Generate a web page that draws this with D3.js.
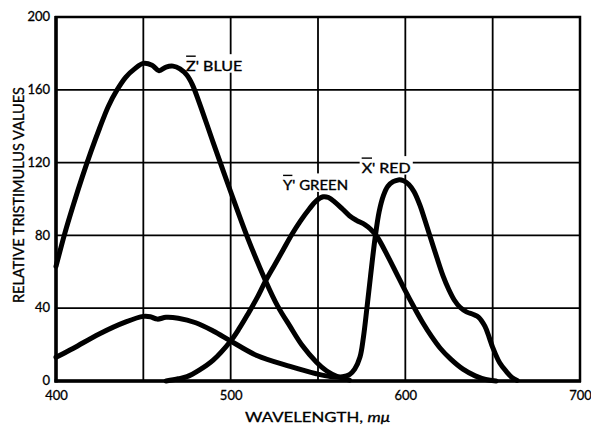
<!DOCTYPE html>
<html>
<head>
<meta charset="utf-8">
<script src="https://cdn.jsdelivr.net/npm/d3@7"></script>
<style>
  html, body { margin: 0; padding: 0; background: #fff; }
  svg { display: block; font-family: Lato, "DejaVu Sans", sans-serif; }
</style>
</head>
<body>
<svg id="chart" width="591" height="425"></svg>
<script>
// ---- data (wavelength in mμ, relative tristimulus value) ----
const xTicks = [400, 500, 600, 700];
const yTicks = [0, 40, 80, 120, 160, 200];
const xGrid = [450, 500, 550, 600, 650];
const yGrid = [40, 80, 120, 160];

const blueWl  = [400, 405, 410, 415, 420, 425, 430, 435, 440, 445, 450, 455, 459, 463, 467, 471, 475, 478, 482, 490, 500, 510, 520, 527, 534, 541, 549, 555, 561, 568];
const blueVal = [63, 81, 97, 112, 126, 139, 151, 160, 167, 171.5, 174.5, 173.5, 170.5, 172.5, 173, 171.5, 168, 163, 153, 131, 104, 78, 55, 41, 30, 19.5, 10.5, 5.5, 2.5, 0.5];

const greenWl  = [463, 470, 475, 482, 490, 500, 505, 510, 515, 520, 525, 530, 535, 540, 545, 549, 553, 556, 560, 564, 568, 572, 577, 580, 584, 590, 595, 600, 605, 610, 615, 620, 626, 633, 640, 646, 652];
const greenVal = [0, 1.2, 2.4, 6, 11.5, 22, 29, 37, 45.5, 55, 63.5, 72, 80.5, 88, 94.5, 99, 101.2, 100.8, 98, 94.5, 90.8, 88.3, 85.8, 83.5, 79, 68.5, 59, 49.5, 40.5, 32, 24.5, 18, 12, 6.5, 2.8, 0.8, 0];

const redWl  = [400, 410, 425, 440, 450, 454, 458, 463, 470, 480, 490, 500, 515, 534, 549, 557, 564, 568, 571, 574, 576, 578, 580, 582.6, 585, 587.5, 590, 593, 596, 599, 602, 605, 608.4, 611, 614, 618, 621.7, 625, 628, 631.3, 635, 639, 642, 645.6, 648, 650, 654, 658, 661, 664];
const redVal = [13, 18, 26, 32.5, 35.5, 35.3, 34, 35, 34.5, 32, 27.5, 22, 14, 8, 4, 2.5, 2.4, 3.5, 6.5, 13, 24, 40, 57, 78, 93, 102, 107, 109.5, 110.5, 110, 108, 104, 96.5, 89, 80, 68, 57.5, 50, 44.5, 40.5, 38, 36.5, 35, 30, 24, 18.5, 10, 5, 2, 0.3];

const seriesNames = ["Z'", "Y'", "X'"];
const seriesColors = ["BLUE", "GREEN", "RED"];
const xTitle = "WAVELENGTH, ";
const xTitleUnit = "mμ";
const yTitle = "RELATIVE TRISTIMULUS VALUES";

// ---- layout ----
const svg = d3.select("#chart");
svg.append("rect").attr("width", 591).attr("height", 425).attr("fill", "#fff");

const x = d3.scaleLinear().domain([400, 700]).range([56, 580]);
const y = d3.scaleLinear().domain([0, 200]).range([381, 17]);

// gridlines
const grid = svg.append("g").attr("stroke", "#000").attr("stroke-width", 1.8);
grid.selectAll("line.v").data(xGrid).join("line").attr("class", "v")
  .attr("x1", d => x(d)).attr("x2", d => x(d)).attr("y1", y(200)).attr("y2", y(0));
grid.selectAll("line.h").data(yGrid).join("line").attr("class", "h")
  .attr("x1", x(400)).attr("x2", x(700)).attr("y1", d => y(d)).attr("y2", d => y(d));

// labels (with white knock-out background)
const labelSpecs = [
  { name: seriesNames[0], color: seriesColors[0], wl: 474.5, v: 170.5, len: 56 },
  { name: seriesNames[1], color: seriesColors[1], wl: 530, v: 105, len: 65 },
  { name: seriesNames[2], color: seriesColors[2], wl: 575, v: 114.5, len: 49 }
];
const labG = svg.append("g");
labelSpecs.forEach(s => {
  const g = labG.append("g");
  const bg = g.append("rect").attr("fill", "#fff");
  const t = g.append("text")
    .attr("x", x(s.wl)).attr("y", y(s.v))
    .attr("font-size", 13).attr("fill", "#000")
    .attr("stroke", "#000").attr("stroke-width", 0.35)
    .attr("textLength", s.len).attr("lengthAdjust", "spacingAndGlyphs");
  t.append("tspan").text(s.name[0]);
  t.append("tspan").text(s.name.slice(1) + " " + s.color);
  const node = t.node();
  const ext = node.getExtentOfChar(0);
  const bb = node.getBBox();
  const oy = y(s.v) - 14.5;
  bg.attr("x", bb.x - 2).attr("y", oy - 2).attr("width", bb.width + 4).attr("height", y(s.v) - oy + 4);
  g.append("line").attr("x1", ext.x).attr("x2", ext.x + ext.width)
    .attr("y1", oy).attr("y2", oy).attr("stroke", "#000").attr("stroke-width", 1.4);
});

// frame
svg.append("rect").attr("x", x(400)).attr("y", y(200))
  .attr("width", x(700) - x(400)).attr("height", y(0) - y(200))
  .attr("fill", "none").attr("stroke", "#000").attr("stroke-width", 2.5);
svg.append("line").attr("x1", x(400)).attr("x2", x(400)).attr("y1", y(200) - 1).attr("y2", y(0) + 1.5)
  .attr("stroke", "#000").attr("stroke-width", 3.5);
svg.append("line").attr("x1", x(400) - 1.5).attr("x2", x(700) + 1).attr("y1", y(0)).attr("y2", y(0))
  .attr("stroke", "#000").attr("stroke-width", 3.5);

// axes (labels only)
const xAxis = svg.append("g").attr("transform", `translate(0,${y(0)})`)
  .call(d3.axisBottom(x).tickValues(xTicks).tickSize(0).tickPadding(10).tickFormat(d3.format("d")));
const yAxis = svg.append("g").attr("transform", `translate(${x(400)},0)`)
  .call(d3.axisLeft(y).tickValues(yTicks).tickSize(0).tickPadding(6).tickFormat(d3.format("d")));
[xAxis, yAxis].forEach(a => {
  a.select(".domain").remove();
  a.selectAll("text").attr("font-size", 13).attr("font-family", "Lato, 'DejaVu Sans', sans-serif")
    .attr("fill", "#000").attr("stroke", "#000").attr("stroke-width", 0.3);
});
yAxis.selectAll("text").attr("dy", "0.28em");

// curves
const line = d3.line().x(d => x(d[0])).y(d => y(d[1])).curve(d3.curveCatmullRom.alpha(0.5));
const curves = [
  d3.zip(blueWl, blueVal),
  d3.zip(greenWl, greenVal),
  d3.zip(redWl, redVal)
];
svg.append("g").selectAll("path").data(curves).join("path")
  .attr("d", line).attr("fill", "none").attr("stroke", "#000")
  .attr("stroke-width", 5).attr("stroke-linejoin", "round").attr("stroke-linecap", "round");

// axis titles
const xt = svg.append("text").attr("x", 317.5).attr("y", 421.5).attr("text-anchor", "middle")
  .attr("font-size", 14).attr("fill", "#000").attr("stroke", "#000").attr("stroke-width", 0.3)
  .attr("textLength", 145).attr("lengthAdjust", "spacingAndGlyphs");
xt.append("tspan").text(xTitle);
xt.append("tspan").attr("font-style", "italic").text(xTitleUnit);

svg.append("text").attr("transform", "translate(24,195) rotate(-90)")
  .attr("text-anchor", "middle").attr("font-size", 15).attr("fill", "#000")
  .attr("stroke", "#000").attr("stroke-width", 0.3)
  .attr("textLength", 216).attr("lengthAdjust", "spacingAndGlyphs")
  .text(yTitle);
</script>
</body>
</html>
